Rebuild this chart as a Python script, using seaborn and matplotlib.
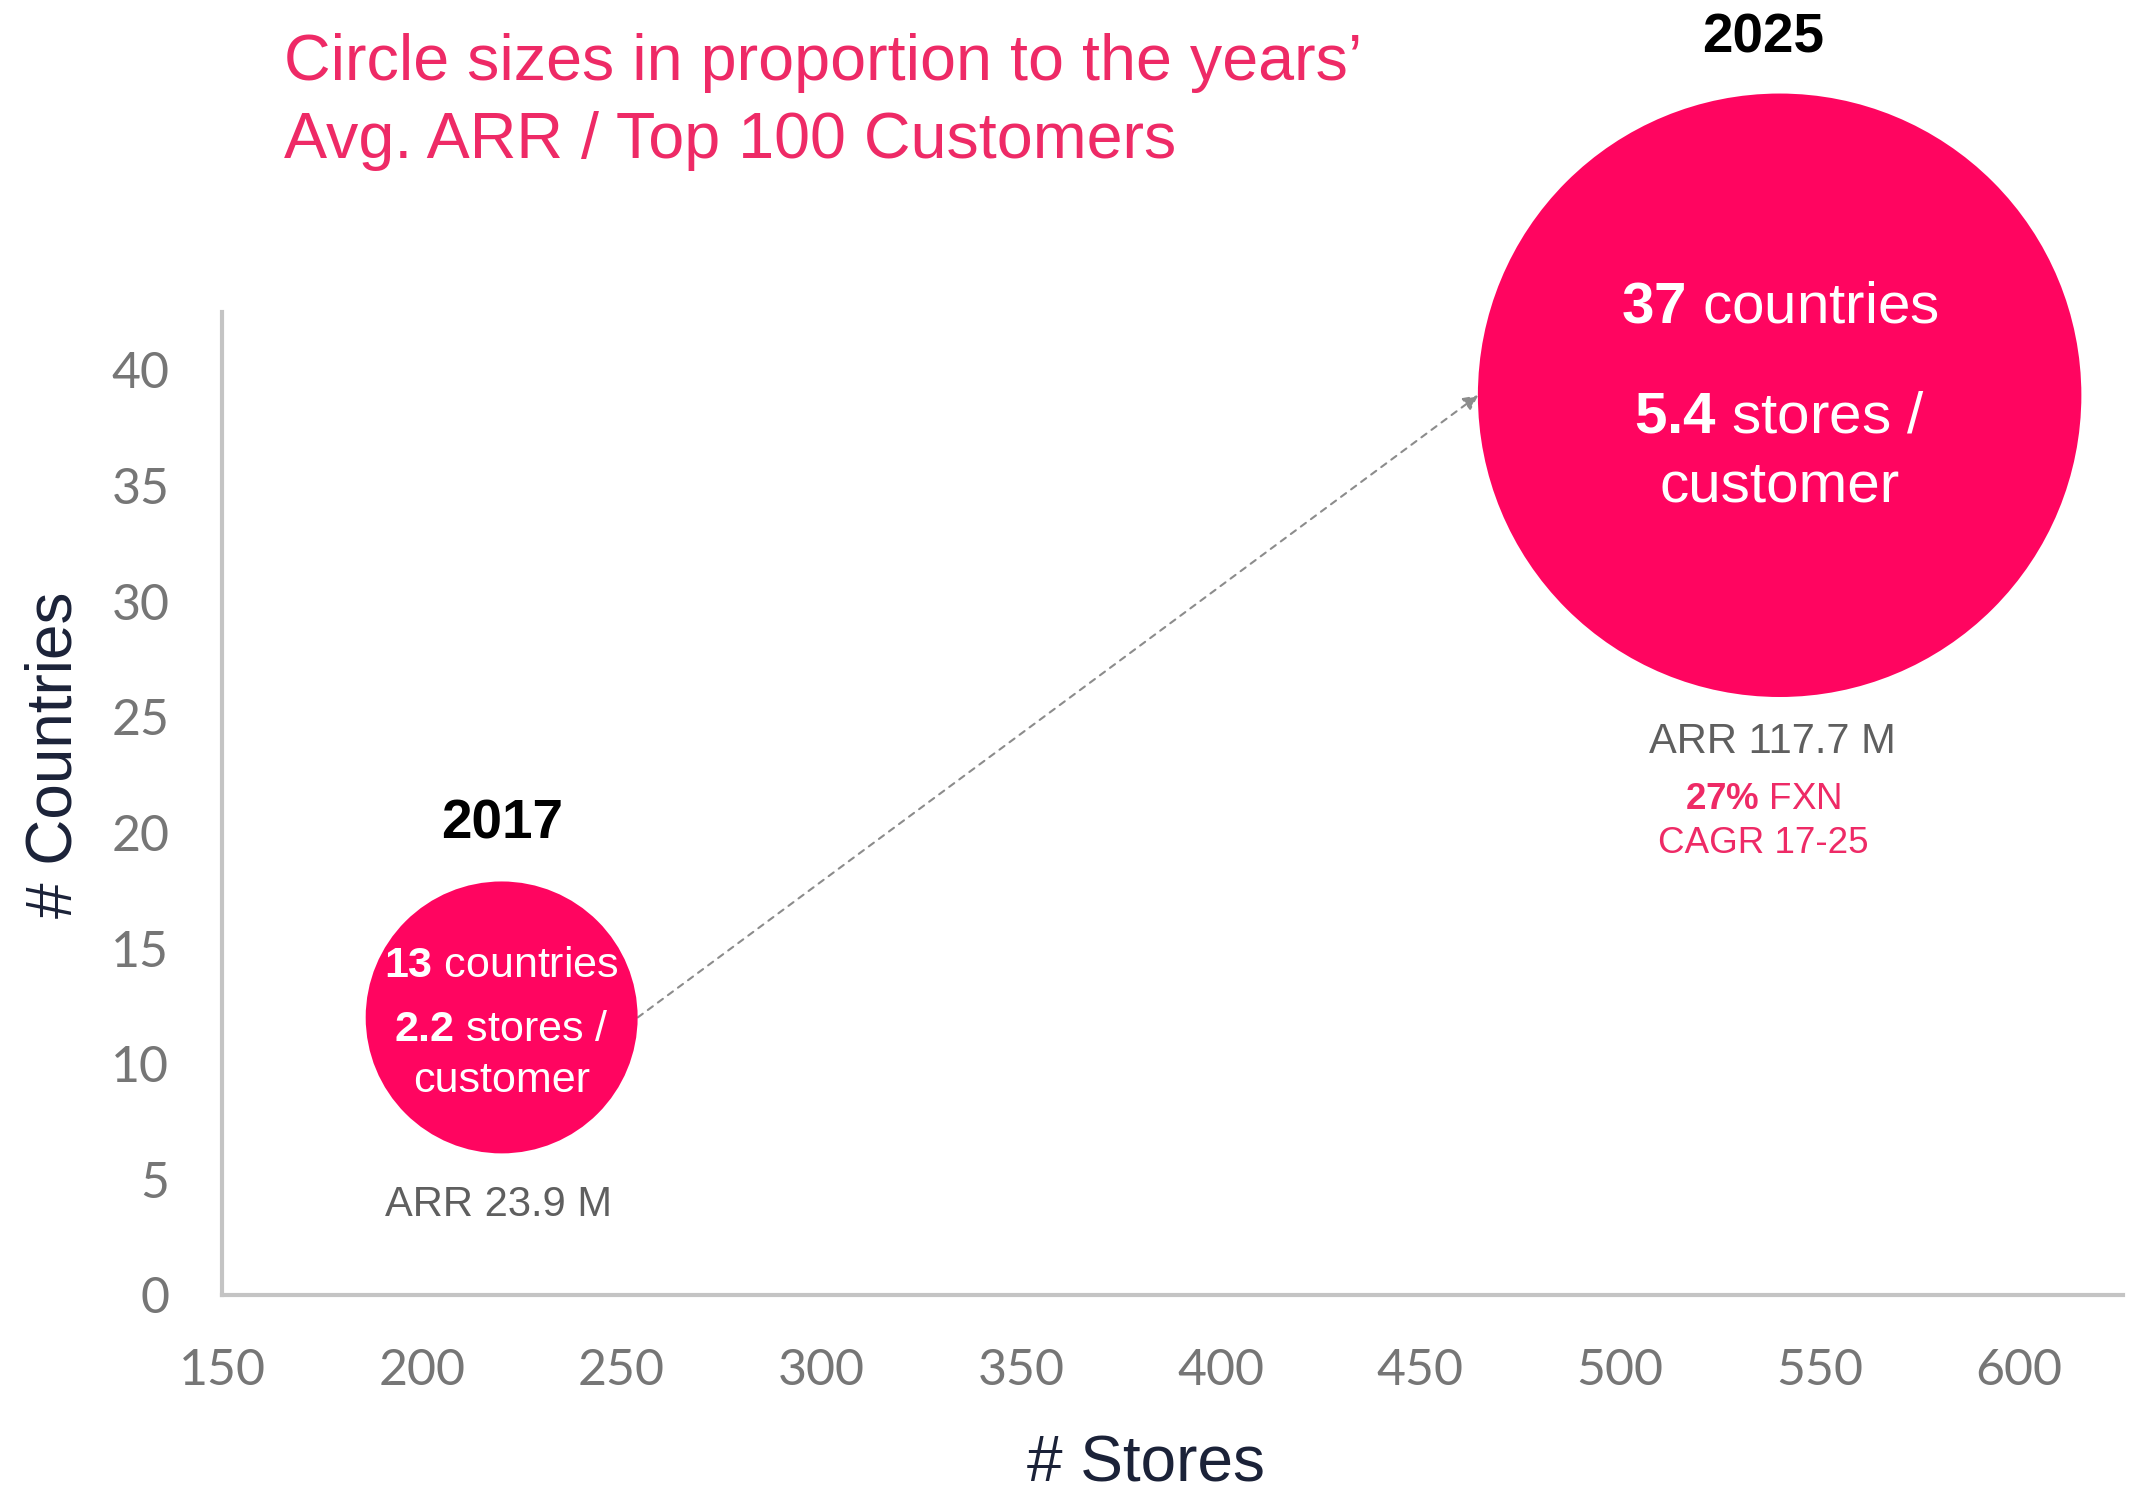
import matplotlib
matplotlib.use('Agg')
import matplotlib.pyplot as plt
import matplotlib.transforms as mtransforms
import seaborn as sns
import pandas as pd

# values
years = ['2017', '2025']
stores = [220, 540]
countries_y = [12.0, 38.9]
arr = [23.9, 117.7]
countries_txt = ['13', '37']
stores_per_cust = ['2.2', '5.4']
x_ticks = [150, 200, 250, 300, 350, 400, 450, 500, 550, 600]
y_ticks = [0, 5, 10, 15, 20, 25, 30, 35, 40]

PINK = '#FF0560'
TEXT_PINK = '#EE2A66'
GREY = '#5f5f5f'

sns.set_style('white')
plt.rcParams['font.family'] = ['Liberation Sans', 'DejaVu Sans']
plt.rcParams['mathtext.fontset'] = 'custom'
plt.rcParams['mathtext.rm'] = 'Liberation Sans'
plt.rcParams['mathtext.bf'] = 'Liberation Sans:bold'

df = pd.DataFrame({'year': years, 'stores': stores, 'countries': countries_y, 'arr': arr})

fig = plt.figure(figsize=(21.48, 14.95), dpi=100)
ax = fig.add_axes([0.1034, 0.1338, 0.885, 0.6575])

# circle area proportional to ARR
k = 1604
sns.scatterplot(data=df, x='stores', y='countries', size='arr',
                sizes=(k * arr[0], k * arr[1]), size_norm=(arr[0], arr[1]),
                color=PINK, edgecolor='none', alpha=1, legend=False, ax=ax, zorder=3)
ax.collections[0].set_clip_on(False)

ax.set_xlim(150, 626)
ax.set_ylim(0, 42.5)
ax.set_xticks(x_ticks)
ax.set_yticks(y_ticks)
ax.tick_params(length=0, labelcolor='#767676', labelsize=36, pad=38)
for lab in ax.get_xticklabels() + ax.get_yticklabels():
    lab.set_family('Lato')
sns.despine(ax=ax)
for sp in ['left', 'bottom']:
    ax.spines[sp].set_color('#c4c4c4')
    ax.spines[sp].set_linewidth(3)

ax.set_xlabel('# Stores', fontsize=46, color='#1b2238', va='center')
ax.set_ylabel('# Countries', fontsize=46, color='#1b2238', va='center')
ax.xaxis.set_label_coords(0.486, -0.172)
ax.yaxis.set_label_coords(-0.088, 0.55)

# dashed arrow from the right edge of the small circle to the left edge of the big one
r_small = 98   # points
r_big = 217
start_tr = mtransforms.offset_copy(ax.transData, fig=fig, x=r_small, y=0, units='points')
end_tr = mtransforms.offset_copy(ax.transData, fig=fig, x=-r_big, y=0, units='points')
ax.annotate('', xy=(stores[1], countries_y[1]), xycoords=end_tr,
            xytext=(stores[0], countries_y[0]), textcoords=start_tr,
            arrowprops=dict(arrowstyle='-|>', linestyle=(0, (3, 3)), color='#8c8c8c',
                            lw=1.5, shrinkA=0, shrinkB=0, mutation_scale=22),
            annotation_clip=False, zorder=2)


def put(i, text, dx, dy, size, color, weight='normal'):
    ax.annotate(text, xy=(stores[i], countries_y[i]), xytext=(dx, dy),
                textcoords='offset points', ha='center', va='center',
                fontsize=size, color=color, fontweight=weight,
                annotation_clip=False, zorder=5)


# 2017
put(0, years[0], 0, 139, 39.5, 'black', 'bold')
put(0, r'$\mathbf{%s}$ countries' % countries_txt[0], 0, 37, 31, 'white')
put(0, r'$\mathbf{%s}$ stores /' % stores_per_cust[0], 0, -9, 31, 'white')
put(0, 'customer', 0, -46, 31, 'white')
put(0, 'ARR %s M' % arr[0], -2, -135, 30, GREY)

# 2025
put(1, years[1], -12, 257, 39.5, 'black', 'bold')
put(1, r'$\mathbf{%s}$ countries' % countries_txt[1], 0, 63, 42, 'white')
put(1, r'$\mathbf{%s}$ stores /' % stores_per_cust[1], 0, -16, 42, 'white')
put(1, 'customer', 0, -66, 42, 'white')
put(1, 'ARR %s M' % arr[1], -5, -250, 30, GREY)
put(1, r'$\mathbf{27\%}$ FXN', -12, -291, 26.5, TEXT_PINK)
put(1, 'CAGR 17-25', -12, -323, 26.5, TEXT_PINK)

fig.text(0.132, 0.978, "Circle sizes in proportion to the years\u2019\nAvg. ARR / Top 100 Customers",
         ha='left', va='top', fontsize=46.5, color=TEXT_PINK, linespacing=1.38)

fig.savefig('out.png', dpi=100, facecolor='white')
